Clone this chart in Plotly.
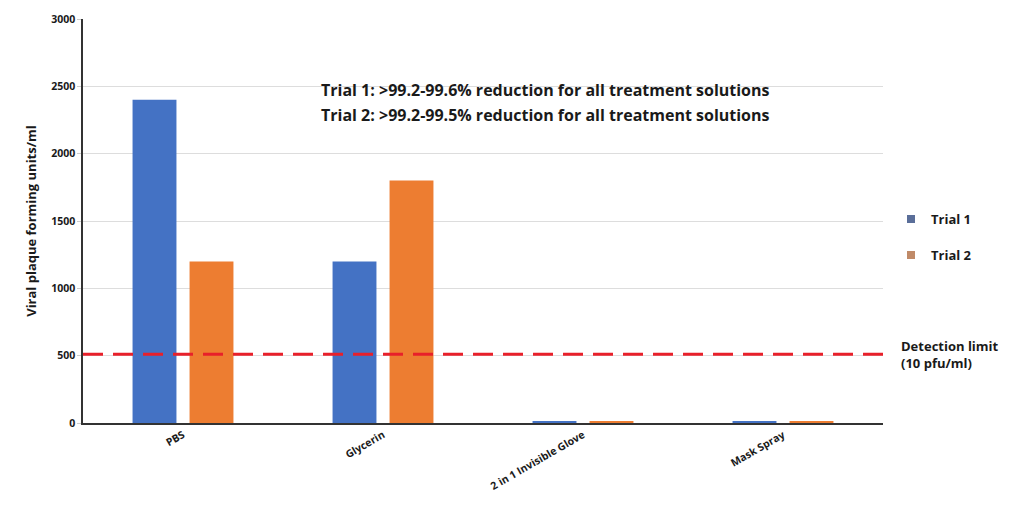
import plotly.graph_objects as go

categories = ["PBS", "Glycerin", "2 in 1 Invisible Glove", "Mask Spray"]
trial1 = [2400, 1200, 12, 12]
trial2 = [1200, 1800, 12, 12]
detection_limit = 510
y_ticks = [0, 500, 1000, 1500, 2000, 2500, 3000]

FONT = "Open Sans, Liberation Sans, sans-serif"
BLUE = "#4472C4"
ORANGE = "#ED7D31"

fig = go.Figure()
fig.add_trace(go.Bar(name="Trial 1", x=categories, y=trial1, showlegend=False,
                     marker=dict(color=BLUE, line=dict(width=0))))
fig.add_trace(go.Bar(name="Trial 2", x=categories, y=trial2, showlegend=False,
                     marker=dict(color=ORANGE, line=dict(width=0))))

# small square legend keys
for nm, col, grp in [("Trial 1", "#5a6e99", "t1"), ("Trial 2", "#c08a68", "t2")]:
    fig.add_trace(go.Scatter(x=[None], y=[None], mode="markers", name="<b>%s</b>" % nm,
                             legendgroup=grp,
                             marker=dict(symbol="square", size=8, color=col)))

# detection limit line across the plot
fig.add_shape(type="line", xref="paper", yref="y", x0=0, x1=1.0,
              y0=detection_limit, y1=detection_limit,
              line=dict(color="#E8202A", width=3, dash="20px,10px"), layer="above")

fig.add_annotation(xref="paper", yref="y", x=1.02, y=detection_limit,
                   text="<b>Detection limit</b><br><b>(10 pfu/ml)</b>",
                   showarrow=False, xanchor="left", yanchor="middle", align="left",
                   font=dict(family=FONT, size=13, color="#1a1a1a"))

fig.add_annotation(xref="paper", yref="paper", x=0.578, y=0.825,
                   text="<b>Trial 1: >99.2-99.6% reduction for all treatment solutions</b>",
                   showarrow=False, xanchor="center", yanchor="middle",
                   font=dict(family=FONT, size=16, color="#1a1a1a"))
fig.add_annotation(xref="paper", yref="paper", x=0.578, y=0.763,
                   text="<b>Trial 2: >99.2-99.5% reduction for all treatment solutions</b>",
                   showarrow=False, xanchor="center", yanchor="middle",
                   font=dict(family=FONT, size=16, color="#1a1a1a"))

fig.update_layout(
    width=1013, height=518,
    margin=dict(l=83, r=130, t=13, b=95),
    paper_bgcolor="white", plot_bgcolor="white",
    barmode="group", bargap=0.43, bargroupgap=0.23,
    font=dict(family=FONT, color="#1a1a1a"),
    legend=dict(x=1.01, y=0.46, xanchor="left", yanchor="middle",
                font=dict(family=FONT, size=13, color="#1a1a1a"),
                itemwidth=30, tracegroupgap=16, bgcolor="rgba(0,0,0,0)"),
    xaxis=dict(showline=True, linecolor="#333333", linewidth=2,
               tickangle=-30, tickfont=dict(family=FONT, size=10.5, color="#1a1a1a"),
               ticks="", showgrid=False,
               tickvals=categories,
               ticktext=["<b>%s</b>" % c for c in categories]),
    yaxis=dict(range=[0, 3000], tickvals=y_ticks,
               ticktext=["<b>%d</b>" % v for v in y_ticks],
               showline=True, linecolor="#333333",
               linewidth=1.5, showgrid=True, gridcolor="#dddddd", gridwidth=1,
               zeroline=False, ticks="outside", ticklen=4, tickcolor="#cccccc",
               tickfont=dict(family=FONT, size=10.5, color="#1a1a1a"),
               title=dict(text="<b>Viral plaque forming units/ml</b>", standoff=12,
                          font=dict(family=FONT, size=13, color="#1a1a1a"))),
)

fig.write_html("out.html")
